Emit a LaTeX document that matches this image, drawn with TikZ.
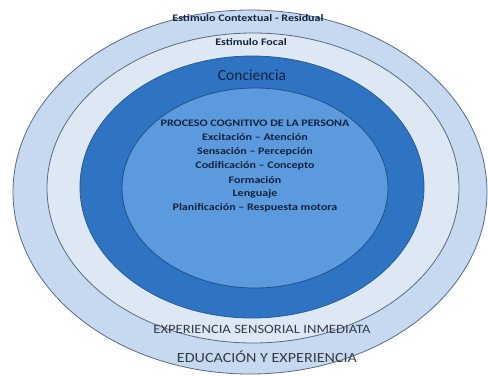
\documentclass[tikz,border=0pt]{standalone}
\usepackage{fontspec}
\setmainfont{Carlito}
\newfontfamily\widefont[FakeStretch=1.2]{Carlito}
\newfontfamily\basefont[FakeStretch=1.15]{Carlito}
\usetikzlibrary{shapes.geometric}
\definecolor{ringOuter}{HTML}{C6D9F0}
\definecolor{ringFocal}{HTML}{DEE8F5}
\definecolor{ringDark}{HTML}{2E74C2}
\definecolor{ringInner}{HTML}{5B9BDD}
\definecolor{edgeGray}{HTML}{5A6A80}
\definecolor{txtNavy}{HTML}{14233F}
\definecolor{txtGray}{HTML}{333C4A}
\tikzset{
  ring/.style={ellipse, draw=edgeGray, line width=0.8pt, inner sep=0pt},
  lbl/.style={inner sep=0pt, text=txtNavy, font=\widefont\bfseries\fontsize{10}{12}\selectfont},
  proc/.style={inner sep=0pt, text=txtNavy, font=\widefont\bfseries\fontsize{10}{12}\selectfont},
  base/.style={inner sep=0pt, text=txtGray}
}
\begin{document}
\begin{tikzpicture}[x=1pt,y=-1pt]
\useasboundingbox (0,0) rectangle (488,376);
% nested rings, outermost first
\node[ring, fill=ringOuter, minimum width=474pt, minimum height=364pt] (ctx) at (250,192) {};
\node[ring, fill=ringFocal, minimum width=412pt, minimum height=310pt] (focal) at (253,188) {};
\node[ring, fill=ringDark, draw=ringDark!80!black, minimum width=344pt, minimum height=262pt] (consc) at (252,187) {};
\node[ring, fill=ringInner, draw=ringDark!70!black, minimum width=266pt, minimum height=200pt] (proc) at (255,188) {};
% ring labels
\node[lbl] (tctx) at (248,18) {Estimulo Contextual - Residual};
\node[lbl] (tfocal) at (251,42) {Estimulo Focal};
\node[inner sep=0pt, text=txtNavy, font=\fontsize{15.5}{17}\selectfont] (tconsc) at (252,75) {Conciencia};
% cognitive process list
\node[proc] (p1) at (255,123) {PROCESO COGNITIVO DE LA PERSONA};
\node[proc] (p2) at (255,137) {Excitación – Atención};
\node[proc] (p3) at (255,152) {Sensación – Percepción};
\node[proc] (p4) at (255,166) {Codificación – Concepto};
\node[proc] (p5) at (255,180) {Formación};
\node[proc] (p6) at (255,194) {Lenguaje};
\node[proc] (p7) at (255,208) {Planificación – Respuesta motora};
% bottom labels
\node[base, font=\basefont\fontsize{12.7}{15}\selectfont] (texp) at (262,329) {EXPERIENCIA SENSORIAL INMEDIATA};
\node[base, font=\basefont\fontsize{14}{16}\selectfont] (tedu) at (267,357) {EDUCACIÓN Y EXPERIENCIA};
\end{tikzpicture}
\end{document}
